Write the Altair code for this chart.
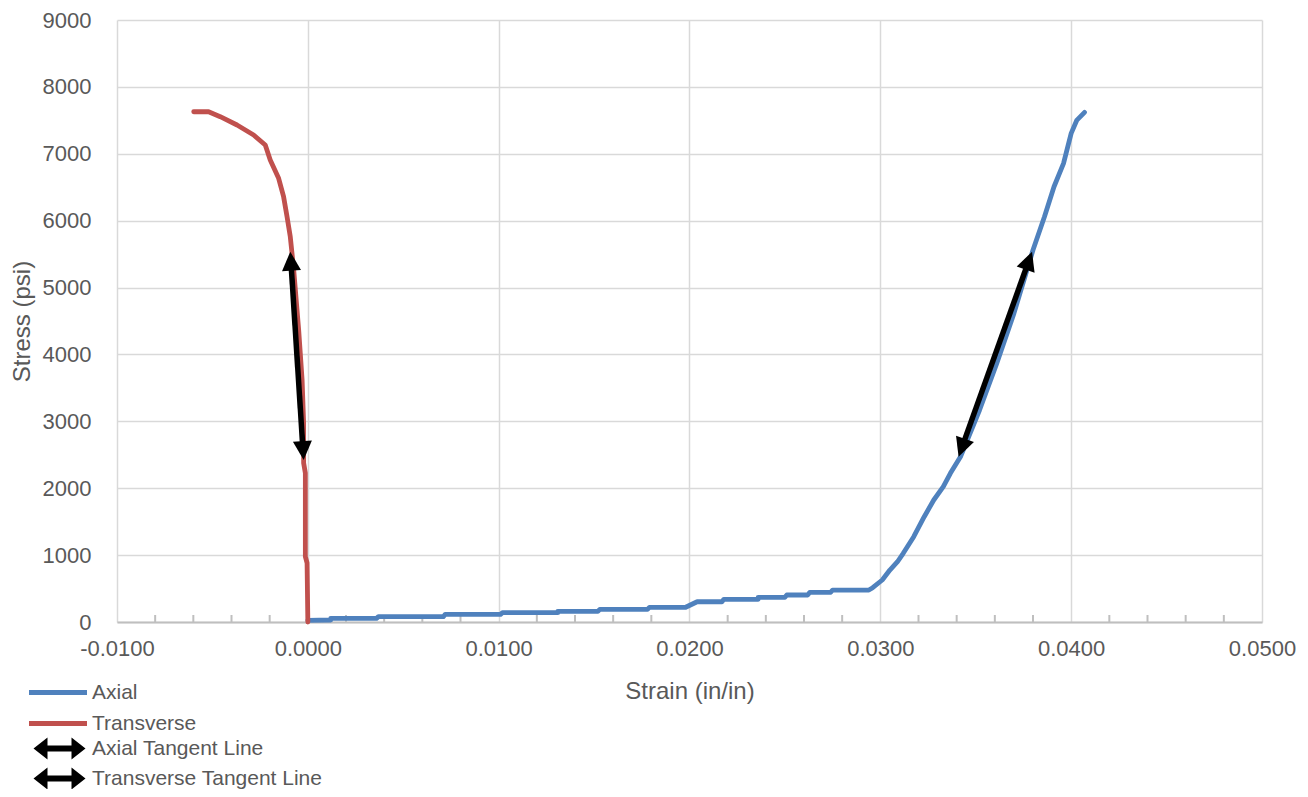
import math
import altair as alt
import pandas as pd

# ---------------- data ----------------
axial_strain = [0.0000, 0.0012, 0.0012, 0.0036, 0.0037, 0.0071, 0.0072, 0.0101, 0.0102, 0.0131,
                0.0131, 0.0152, 0.0153, 0.0178, 0.0179, 0.0198, 0.0204, 0.0217, 0.0218, 0.0236,
                0.0236, 0.0250, 0.0251, 0.0262, 0.0263, 0.0274, 0.0275, 0.0294, 0.0296, 0.0301,
                0.0305, 0.0309, 0.0312, 0.03175, 0.0323, 0.0328, 0.0333, 0.03367, 0.0342, 0.0352,
                0.0361, 0.0370, 0.0380, 0.0386, 0.0391, 0.0396, 0.0400, 0.0403, 0.0407]
axial_stress = [25, 30, 55, 55, 80, 80, 115, 115, 139, 139,
                160, 160, 190, 190, 220, 220, 303, 303, 339, 339,
                369, 369, 404, 404, 444, 444, 478, 478, 513, 628,
                777, 901, 1027, 1275, 1574, 1824, 2023, 2223, 2471, 3169,
                3867, 4614, 5561, 6058, 6507, 6856, 7305, 7504, 7619]

trans_strain = [0.0, 0.0, -0.00004, -0.00013, -0.00013, -0.00022, -0.00022, -0.0003, -0.00048,
                -0.00074, -0.00083, -0.00092, -0.00109, -0.00127, -0.00153, -0.00197, -0.00223,
                -0.00284, -0.00371, -0.00459, -0.0052, -0.00598]
trans_stress = [0, 30, 882, 976, 2228, 2377, 2975, 3618, 4365,
                5262, 5512, 5760, 6059, 6358, 6633, 6907, 7131,
                7281, 7430, 7554, 7628, 7628]

series_names = ["Axial", "Transverse"]
series_colors = ["#4F81BD", "#C0504D"]

tangent_names = ["Axial Tangent Line", "Transverse Tangent Line"]
tangent_start_strain = [0.0341, -0.00022]
tangent_start_stress = [2471, 2422]
tangent_end_strain = [0.03795, -0.00092]
tangent_end_stress = [5536, 5536]

x_major = [-0.01, 0.0, 0.01, 0.02, 0.03, 0.04, 0.05]
x_minor = [-0.008, -0.006, -0.004, -0.002, 0.002, 0.004, 0.006, 0.008,
           0.012, 0.014, 0.016, 0.018, 0.022, 0.024, 0.026, 0.028,
           0.032, 0.034, 0.036, 0.038, 0.042, 0.044, 0.046, 0.048]
y_major = [0, 1000, 2000, 3000, 4000, 5000, 6000, 7000, 8000, 9000]

# ---------------- layout / style ----------------
W, H = 1145, 602
XDOM = [-0.01, 0.05]
YDOM = [0, 9000]
FONT = "Liberation Sans, Arial, sans-serif"
TXT = "#595959"
GRID = "#d9d9d9"
AXIS = "#bfbfbf"

sx = W / (XDOM[1] - XDOM[0])
sy = H / (YDOM[1] - YDOM[0])

rows = []
for i, (x, y) in enumerate(zip(axial_strain, axial_stress)):
    rows.append({"strain": x, "stress": y, "Series": "Axial", "idx": i})
for i, (x, y) in enumerate(zip(trans_strain, trans_stress)):
    rows.append({"strain": x, "stress": y, "Series": "Transverse", "idx": i})
df = pd.DataFrame(rows)

# arrow shafts and heads
shaft_rows, head_rows, mid_rows = [], [], []
SHORT = 12  # px the shaft stops short of each tip
for n, x1, y1, x2, y2 in zip(tangent_names, tangent_start_strain, tangent_start_stress,
                             tangent_end_strain, tangent_end_stress):
    dxp = (x2 - x1) * sx
    dyp = -(y2 - y1) * sy
    L = math.hypot(dxp, dyp)
    ux, uy = dxp / L, dyp / L
    shaft_rows.append({"name": n,
                       "strain": x1 + ux * SHORT / sx, "stress": y1 - uy * SHORT / sy,
                       "strain2": x2 - ux * SHORT / sx, "stress2": y2 + uy * SHORT / sy})
    ang_end = math.degrees(math.atan2(ux, -uy)) % 360
    ang_start = (ang_end + 180) % 360
    head_rows.append({"name": n, "strain": x2, "stress": y2, "angle": ang_end})
    head_rows.append({"name": n, "strain": x1, "stress": y1, "angle": ang_start})
    mid_rows.append({"name": n, "strain": (x1 + x2) / 2, "stress": (y1 + y2) / 2})
shaft_df = pd.DataFrame(shaft_rows)
head_df = pd.DataFrame(head_rows)
mid_df = pd.DataFrame(mid_rows)
minor_df = pd.DataFrame({"strain": x_minor, "stress": [0] * len(x_minor),
                         "stress2": [105] * len(x_minor)})

HEAD_PATH = "M0,0L1,2L-1,2Z"
LINE_SYMBOL = "M-2.9,0H2.9"
ARROW_SYMBOL = ("M-2.6,0L-1.2,-1.1L-1.2,-0.3L1.2,-0.3L1.2,-1.1L2.6,0L1.2,1.1L1.2,0.3"
                "L-1.2,0.3L-1.2,1.1Z")

xscale = alt.Scale(domain=XDOM, nice=False, zero=False)
yscale = alt.Scale(domain=YDOM, nice=False, zero=False)

x_axis = alt.Axis(values=x_major, labelExpr="replace(format(datum.value, '.4f'), '\u2212', '-')",
                  title="Strain (in/in)", ticks=False, tickSize=0, labelPadding=16,
                  domainColor=AXIS, domainWidth=2, grid=True, gridColor=GRID, gridWidth=1.5,
                  titlePadding=20, labelFlush=False)
y_axis = alt.Axis(values=y_major, format="d", title="Stress (psi)", ticks=False, tickSize=0,
                  labelPadding=26, domain=False, grid=True, gridColor=GRID, gridWidth=1.5,
                  titlePadding=8)

X = alt.X("strain:Q", scale=xscale, axis=x_axis)
Y = alt.Y("stress:Q", scale=yscale, axis=y_axis)

minor_ticks = alt.Chart(minor_df).mark_rule(color=AXIS, strokeWidth=2).encode(
    x=X, y=Y, y2="stress2:Q",
)

lines = alt.Chart(df).mark_line(strokeWidth=4.8, strokeCap="round", strokeJoin="round").encode(
    x=X,
    y=Y,
    color=alt.Color("Series:N",
                    scale=alt.Scale(domain=series_names, range=series_colors),
                    legend=alt.Legend(title=None, orient="none", legendX=-71.5, legendY=660,
                                      symbolType=LINE_SYMBOL, symbolSize=400, symbolStrokeWidth=5,
                                      labelFont=FONT, labelFontSize=21, labelColor=TXT,
                                      labelOffset=21.5, labelLimit=500, rowPadding=8, padding=0)),
    order="idx:Q",
)

shafts = alt.Chart(shaft_df).mark_rule(color="black", strokeWidth=5.5).encode(
    x=X, y=Y, x2="strain2:Q", y2="stress2:Q",
)

heads = alt.Chart(head_df).mark_point(shape=HEAD_PATH, filled=True, color="black",
                                      size=361, opacity=1, strokeWidth=0).encode(
    x=X, y=Y,
    angle=alt.Angle("angle:Q", scale=None),
)

legend_pts = alt.Chart(mid_df).mark_point(filled=True, color="black").encode(
    x=X, y=Y,
    shape=alt.Shape("name:N", scale=alt.Scale(domain=tangent_names,
                                              range=[ARROW_SYMBOL, ARROW_SYMBOL]),
                    legend=alt.Legend(title=None, orient="none", legendX=-68, legendY=718,
                                      symbolSize=400, symbolOpacity=1, symbolFillColor="black",
                                      symbolStrokeWidth=0,
                                      labelFont=FONT, labelFontSize=21, labelColor=TXT,
                                      labelOffset=22, labelLimit=500, rowPadding=7, padding=0)),
    opacity=alt.value(0),
)

chart = alt.layer(minor_ticks, lines, shafts, heads, legend_pts).resolve_scale(
    shape="independent", color="independent"
).properties(
    width=W, height=H,
    autosize=alt.AutoSizeParams(type="none"),
    padding={"left": 109, "top": 12, "right": 38, "bottom": 167},
    background="white",
).configure_view(stroke=None).configure_axis(
    labelFont=FONT, labelFontSize=22, labelColor=TXT,
    titleFont=FONT, titleFontSize=24, titleFontWeight="normal", titleColor=TXT,
)

chart.save("out.html", embed_options={"renderer": "svg", "actions": False})
